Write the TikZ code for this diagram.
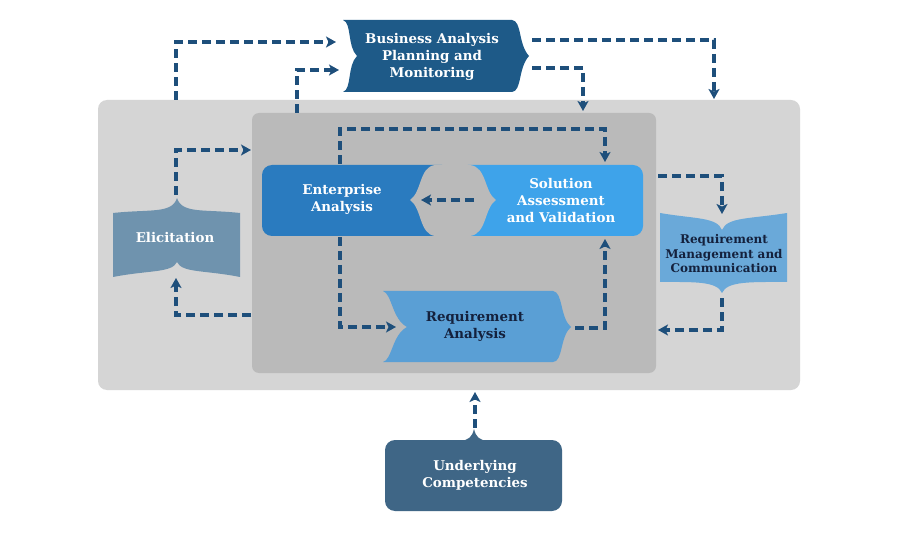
\documentclass[tikz,border=0pt]{standalone}
\usepackage{fontspec}
\setmainfont{DejaVu Serif}
\usetikzlibrary{arrows.meta,calc}
\definecolor{outergrey}{HTML}{D5D5D5}
\definecolor{innergrey}{HTML}{BABABA}
\definecolor{bapmcol}{HTML}{1E5A88}
\definecolor{eacol}{HTML}{2A7BBF}
\definecolor{savcol}{HTML}{3EA3EA}
\definecolor{racol}{HTML}{5A9FD5}
\definecolor{elicol}{HTML}{6F93AE}
\definecolor{rmccol}{HTML}{6AA9D9}
\definecolor{uccol}{HTML}{3F6686}
\definecolor{conncol}{HTML}{1E4F7B}
\definecolor{darktext}{HTML}{14213D}
\tikzset{
  conn/.style={draw=conncol, line width=3.2pt, dash pattern=on 9pt off 5pt,
    -{Stealth[length=10pt,width=11pt,inset=2.5pt]}},
  lbl/.style={font=\fontsize{13.4}{17}\selectfont\bfseries, align=center, inner sep=0pt},
  lblw/.style={lbl, text=white},
  lbld/.style={lbl, text=darktext},
  panel/.style={draw=none, inner sep=0pt}
}
\begin{document}
\begin{tikzpicture}[x=1pt,y=-1pt]
\useasboundingbox[fill=white] (0,0) rectangle (900,540);

% panels
\node[panel, fill=outergrey, rounded corners=9pt, minimum width=702pt, minimum height=290pt] (outer) at (449,245) {};
\node[panel, fill=innergrey, rounded corners=7pt, minimum width=404pt, minimum height=260pt] (inner) at (454,243) {};

% Business Analysis Planning and Monitoring
\fill[bapmcol] (343,20) -- (512,20) .. controls (522,21) and (518,44) .. (529,56)
  .. controls (518,68) and (522,91) .. (512,92) -- (343,92)
  .. controls (352,89) and (347,66) .. (357,56) .. controls (347,46) and (352,23) .. (343,20) -- cycle;
\node[lblw] (bapm) at (432,57) {Business Analysis\\Planning and\\Monitoring};

% Enterprise Analysis and Solution Assessment
\fill[eacol, rounded corners=10pt] (262,165) rectangle (452,236);
\fill[savcol, rounded corners=10pt] (458,165) rectangle (643,236);
\fill[innergrey] (435,165) -- (470,165) .. controls (487,167) and (484,192) .. (496,200)
  .. controls (484,208) and (487,234) .. (470,236) -- (435,236)
  .. controls (419,234) and (422,208) .. (410,200) .. controls (422,192) and (419,167) .. (435,165) -- cycle;
\node[lblw] (ea) at (342,199) {Enterprise\\Analysis};
\node[lblw] (sav) at (561,201) {Solution\\Assessment\\and Validation};

% Requirement Analysis
\fill[racol] (383,291) -- (553,291) .. controls (563,292) and (560,318) .. (571,327)
  .. controls (560,336) and (563,362) .. (553,362) -- (383,362)
  .. controls (392,360) and (392,335) .. (407,327) .. controls (392,319) and (392,294) .. (383,291) -- cycle;
\node[lbld] (ra) at (475,326) {Requirement\\Analysis};

% Elicitation
\fill[elicol] (113,213) .. controls (150,209) and (172,214) .. (177,198)
  .. controls (182,214) and (204,209) .. (240,213) -- (240,277)
  .. controls (205,270) and (182,273) .. (177,262) .. controls (172,273) and (149,270) .. (113,277) -- cycle;
\node[lblw] (eli) at (175,238) {Elicitation};

% Requirement Management and Communication
\fill[rmccol] (660,213) .. controls (695,219) and (717,217) .. (722,230)
  .. controls (727,217) and (750,219) .. (787,213) -- (787,282)
  .. controls (751,282) and (727,281) .. (722,293) .. controls (717,281) and (694,282) .. (660,282) -- cycle;
\node[lbld, font=\fontsize{12}{14.5}\selectfont\bfseries] (rmc) at (724,254) {Requirement\\Management and\\Communication};

% Underlying Competencies
\fill[uccol, rounded corners=10pt] (385,440) rectangle (562,511);
\fill[uccol] (460,441) .. controls (469,440) and (472,437) .. (474,429) .. controls (476,437) and (479,440) .. (488,441) -- cycle;
\node[lblw] (uc) at (475,475) {Underlying\\Competencies};

% connector end points
\coordinate (c1s) at (176,100);  \coordinate (c1e) at (336,42);
\coordinate (c2s) at (297,113);  \coordinate (c2e) at (339,70);
\coordinate (c3s) at (532,40);   \coordinate (c3e) at (714,99);
\coordinate (c4s) at (532,68);   \coordinate (c4e) at (583,111);
\coordinate (c5s) at (340,164);  \coordinate (c5m) at (340,129); \coordinate (c5e) at (605,162);
\coordinate (c6s) at (176,195);  \coordinate (c6e) at (251,150);
\coordinate (c7s) at (251,315);  \coordinate (c7e) at (176,278);
\coordinate (c8s) at (340,237);  \coordinate (c8e) at (396,327);
\coordinate (c9s) at (575,328);  \coordinate (c9e) at (605,239);
\coordinate (c10s) at (474,200); \coordinate (c10e) at (421,200);
\coordinate (c11s) at (658,176); \coordinate (c11e) at (722,214);
\coordinate (c12s) at (722,298); \coordinate (c12e) at (658,330);
\coordinate (c13s) at (475,428); \coordinate (c13e) at (475,392);

\draw[conn] (c1s) |- (c1e);
\draw[conn] (c2s) |- (c2e);
\draw[conn] (c3s) -| (c3e);
\draw[conn] (c4s) -| (c4e);
\draw[conn] (c5s) -- (c5m) -| (c5e);
\draw[conn] (c6s) |- (c6e);
\draw[conn] (c7s) -| (c7e);
\draw[conn] (c8s) |- (c8e);
\draw[conn] (c9s) -| (c9e);
\draw[conn] (c10s) -- (c10e);
\draw[conn] (c11s) -| (c11e);
\draw[conn] (c12s) |- (c12e);
\draw[conn] (c13s) -- (c13e);
\end{tikzpicture}
\end{document}
